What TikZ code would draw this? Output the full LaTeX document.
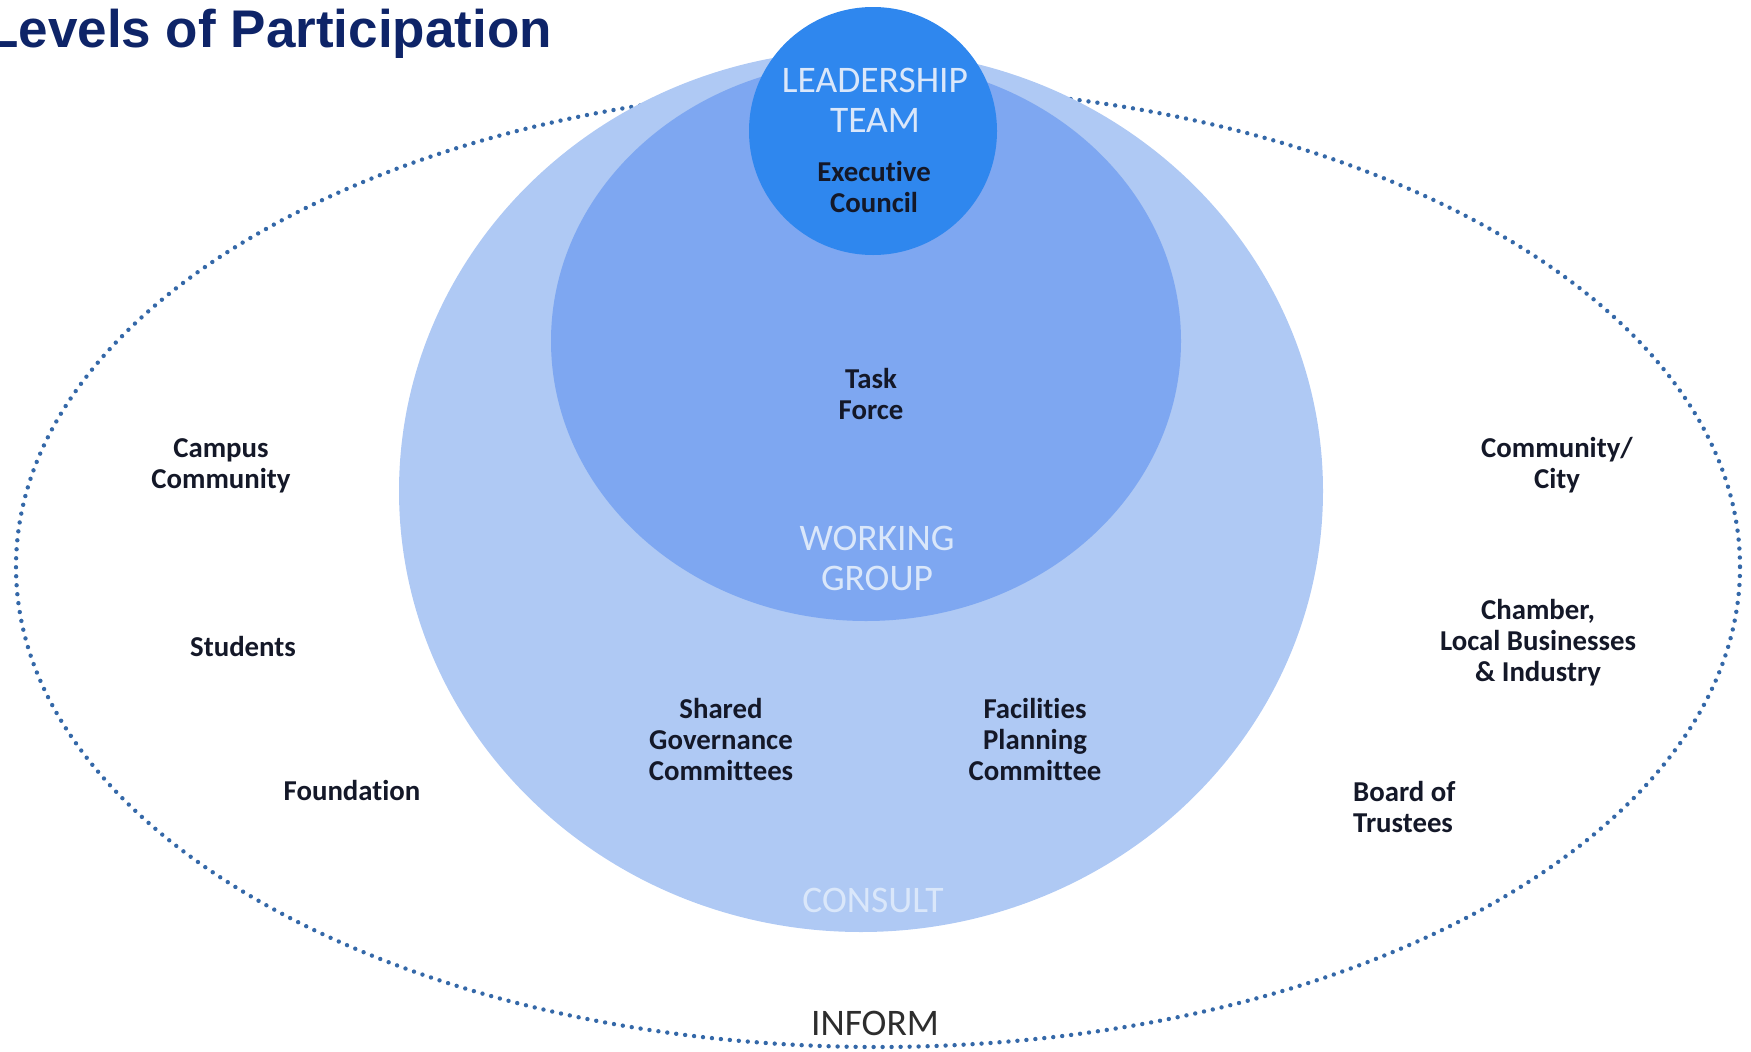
\documentclass[tikz,border=0pt]{standalone}
\usepackage{fontspec}
\setmainfont[Ligatures=NoCommon]{Carlito}
\newfontfamily\titlefont{Liberation Sans}
\definecolor{consultC}{RGB}{175,201,244}
\definecolor{workC}{RGB}{126,167,241}
\definecolor{leadC}{RGB}{47,135,238}
\definecolor{dotC}{RGB}{52,104,168}
\definecolor{titleC}{RGB}{14,36,104}
\definecolor{lightTxt}{RGB}{218,231,250}
\definecolor{darkTxt}{RGB}{20,24,40}
\definecolor{informTxt}{RGB}{45,45,45}
\tikzset{
  lbl/.style={inner sep=0pt, anchor=base, align=center, text=darkTxt,
    font=\bfseries\fontsize{28.8}{31}\selectfont},
  biglbl/.style={inner sep=0pt, anchor=base, align=center, text=lightTxt,
    font=\fontsize{37.5}{40}\selectfont},
  dotline/.style={draw=dotC, line width=4.4pt, line cap=round, dash pattern=on 0pt off 9pt}
}
\begin{document}
\begin{tikzpicture}[x=1pt,y=-1pt]
\useasboundingbox (0,0) rectangle (1751,1052);
% outer dotted ellipse (INFORM)
\draw[dotline] (878,567) ellipse [x radius=862, y radius=480];
% CONSULT circle
\fill[consultC] (861,491) ellipse [x radius=462, y radius=441];
% WORKING GROUP circle
\fill[workC] (866,341) ellipse [x radius=315, y radius=280];
% LEADERSHIP circle
\fill[leadC] (873,131) circle [radius=124];
% title
\node[inner sep=0pt, anchor=base east, text=titleC, font=\titlefont\bfseries\fontsize{53}{60}\selectfont] (title) at (552,47) {Levels of Participation};
% circle labels (anchor = baseline of last line)
\node[biglbl] (leader) at (875,132) {LEADERSHIP\\TEAM};
\node[lbl] (exec) at (874,212) {Executive\\Council};
\node[lbl] (task) at (871,419) {Task\\Force};
\node[biglbl] (working) at (877,590) {WORKING\\GROUP};
\node[lbl] (shared) at (721,780) {Shared\\Governance\\Committees};
\node[lbl] (facil) at (1035,780) {Facilities\\Planning\\Committee};
\node[biglbl] (consult) at (873,912) {CONSULT};
\node[biglbl, text=informTxt] (inform) at (875,1035) {INFORM};
% outside labels
\node[lbl] (campus) at (221,488) {Campus\\Community};
\node[lbl] (students) at (243,656) {Students};
\node[lbl] (found) at (352,800) {Foundation};
\node[lbl] (city) at (1557,488) {Community/\\City};
\node[lbl] (chamber) at (1538,681) {Chamber,\\Local Businesses\\\& Industry};
\node[lbl, anchor=base west, align=left] (board) at (1353,832) {Board of\\Trustees};
\end{tikzpicture}
\end{document}
